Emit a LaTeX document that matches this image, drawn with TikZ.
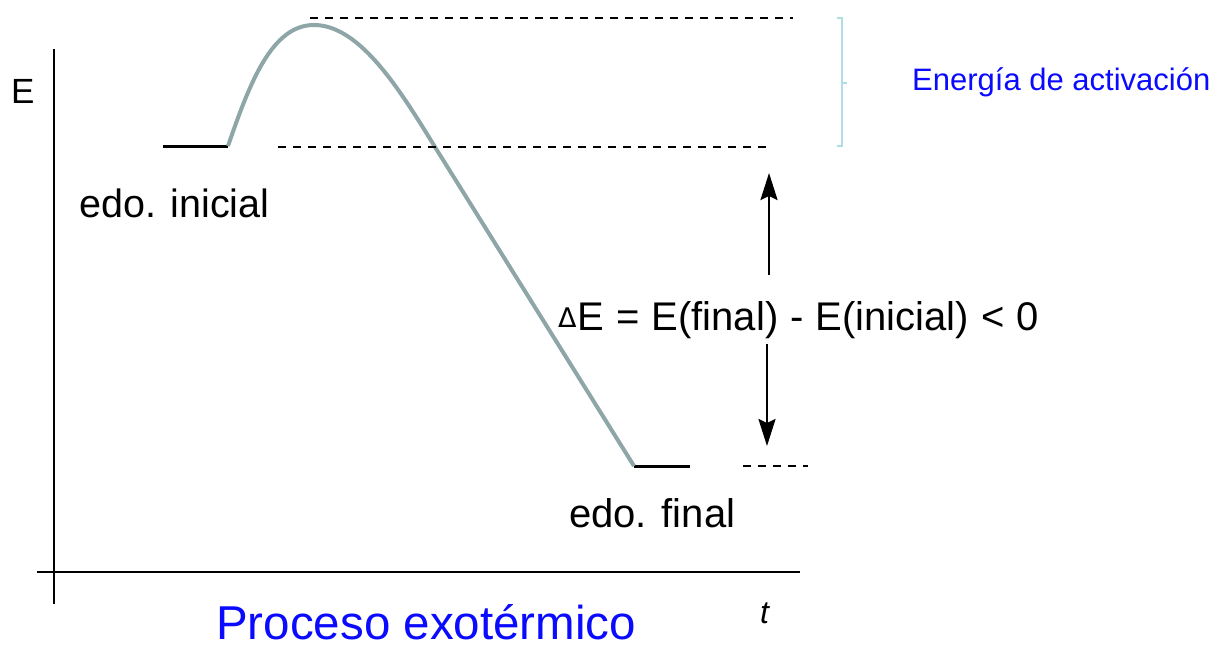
\documentclass[tikz,border=0pt]{standalone}
\usepackage{fontspec}
\setmainfont{Liberation Sans}
\newfontfamily\dvsans{DejaVu Sans}
\usetikzlibrary{arrows.meta}
\definecolor{curvec}{RGB}{143,166,168}
\definecolor{bracec}{RGB}{176,221,228}
\definecolor{lblue}{RGB}{10,10,255}
\begin{document}
\begin{tikzpicture}[x=1pt,y=-1pt,
  axis/.style={line width=2.5pt},
  levelln/.style={line width=3pt},
  dashln/.style={line width=2pt, dash pattern=on 7.5pt off 7.5pt},
  arr/.style={line width=2.5pt, -{Stealth[length=27pt,width=17pt,inset=4pt]}},
  lbl/.style={inner sep=0pt, anchor=base west},
  bracket/.style={bracec, line width=1.5pt},
]
\useasboundingbox (0,0) rectangle (1222,649);
% axes
\coordinate (ytop) at (54,49);
\coordinate (ybot) at (54,604);
\coordinate (xl) at (37,572);
\coordinate (xr) at (800,572);
\draw[axis] (ybot) -- (ytop);
\draw[axis] (xl) -- (xr);
% levels
\coordinate (i1) at (163,146);
\coordinate (i2) at (228,146);
\coordinate (f1) at (634,466);
\coordinate (f2) at (690,466);
\draw[levelln] (i1) -- (i2);
\draw[levelln] (f1) -- (f2);
% curve
\coordinate (peak) at (314,25);
\coordinate (cross) at (435,147);
\draw[curvec, line width=4pt] (i2) .. controls (250,82) and (272,25) .. (peak)
  .. controls (360,25) and (400,90) .. (cross) -- (f1);
% dashed lines
\coordinate (d1a) at (310,18); \coordinate (d1b) at (793,18);
\coordinate (d2a) at (278,147); \coordinate (d2b) at (770,147);
\coordinate (d3a) at (743,466); \coordinate (d3b) at (808,466);
\draw[dashln] (d1a) -- (d1b);
\draw[dashln] (d2a) -- (d2b);
\draw[dashln] (d3a) -- (d3b);
% bracket
\coordinate (b1) at (837,18); \coordinate (b2) at (842,18);
\coordinate (b3) at (842,146); \coordinate (b4) at (837,146);
\coordinate (bm1) at (842,83); \coordinate (bm2) at (847,83);
\draw[bracket] (b1) -- (b2) -- (b3) -- (b4);
\draw[bracket] (bm1) -- (bm2);
% arrows
\coordinate (ua) at (769,275); \coordinate (ub) at (769,173);
\coordinate (da) at (767,344); \coordinate (db) at (767,446);
\draw[arr] (ua) -- (ub);
\draw[arr] (da) -- (db);
% labels
\node[lbl] (elab) at (11,103) {\fontsize{35}{40}\selectfont E};
\node[lbl] (ini) at (79,217) {\fontsize{39.5}{46}\selectfont edo. inicial};
\node[lbl] (fin) at (569,527) {\fontsize{40}{46}\selectfont edo. final};
\node[lbl] (de) at (558,330) {\fontsize{40}{46}\selectfont\spaceskip=12pt \raisebox{3pt}{{\dvsans\fontsize{27}{30}\selectfont Δ}}\kern1pt E = E(final) - E(inicial) < 0};
\node[lbl] (tlab) at (760,623) {\fontsize{32}{36}\selectfont\itshape t};
\node[lbl, text=lblue] (proc) at (216,639) {\fontsize{47.5}{52}\selectfont Proceso exotérmico};
\node[lbl, text=lblue] (ea) at (912,90) {\fontsize{31}{36}\selectfont Energía de activación};
\end{tikzpicture}
\end{document}
